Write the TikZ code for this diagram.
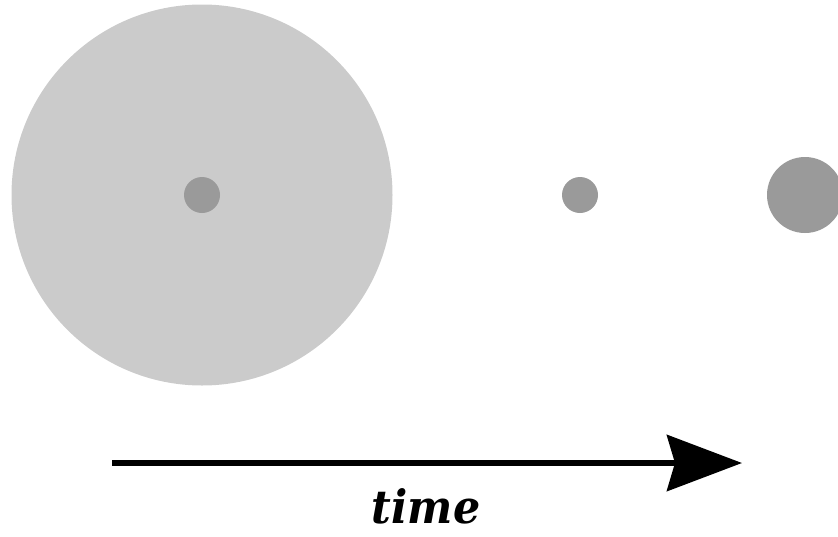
\documentclass[tikz,border=0pt]{standalone}
\usepackage{fontspec}
\newfontfamily\labelfont{DejaVu Serif}
\usepackage{xcolor}
\usetikzlibrary{arrows.meta}
\definecolor{halo}{HTML}{CBCBCB}
\definecolor{core}{HTML}{9A9A9A}
\tikzset{blob/.style={circle,fill=#1,inner sep=0pt}}

\begin{document}
\begin{tikzpicture}[x=1pt,y=-1pt]
\useasboundingbox(0,0)rectangle(838,536);
\node[blob=halo,minimum size=381pt](halo) at (202,195){};
\node[blob=core,minimum size=36pt](core1) at (202,195){};
\node[blob=core,minimum size=36pt](core2) at (580,195){};
\node[blob=core,minimum size=76pt](core3) at (805,195){};
\coordinate(tstart) at (112,463);
\coordinate(tend) at (742,463);
\draw[line width=6pt,-{Stealth[length=75pt,width=56pt,inset=8pt]}](tstart)--(tend);
\node[anchor=base,inner sep=0pt,xscale=0.93,transform shape,font=\labelfont\bfseries\itshape\fontsize{46}{46}\selectfont](time) at (426,523){time};
\end{tikzpicture}
\end{document}
